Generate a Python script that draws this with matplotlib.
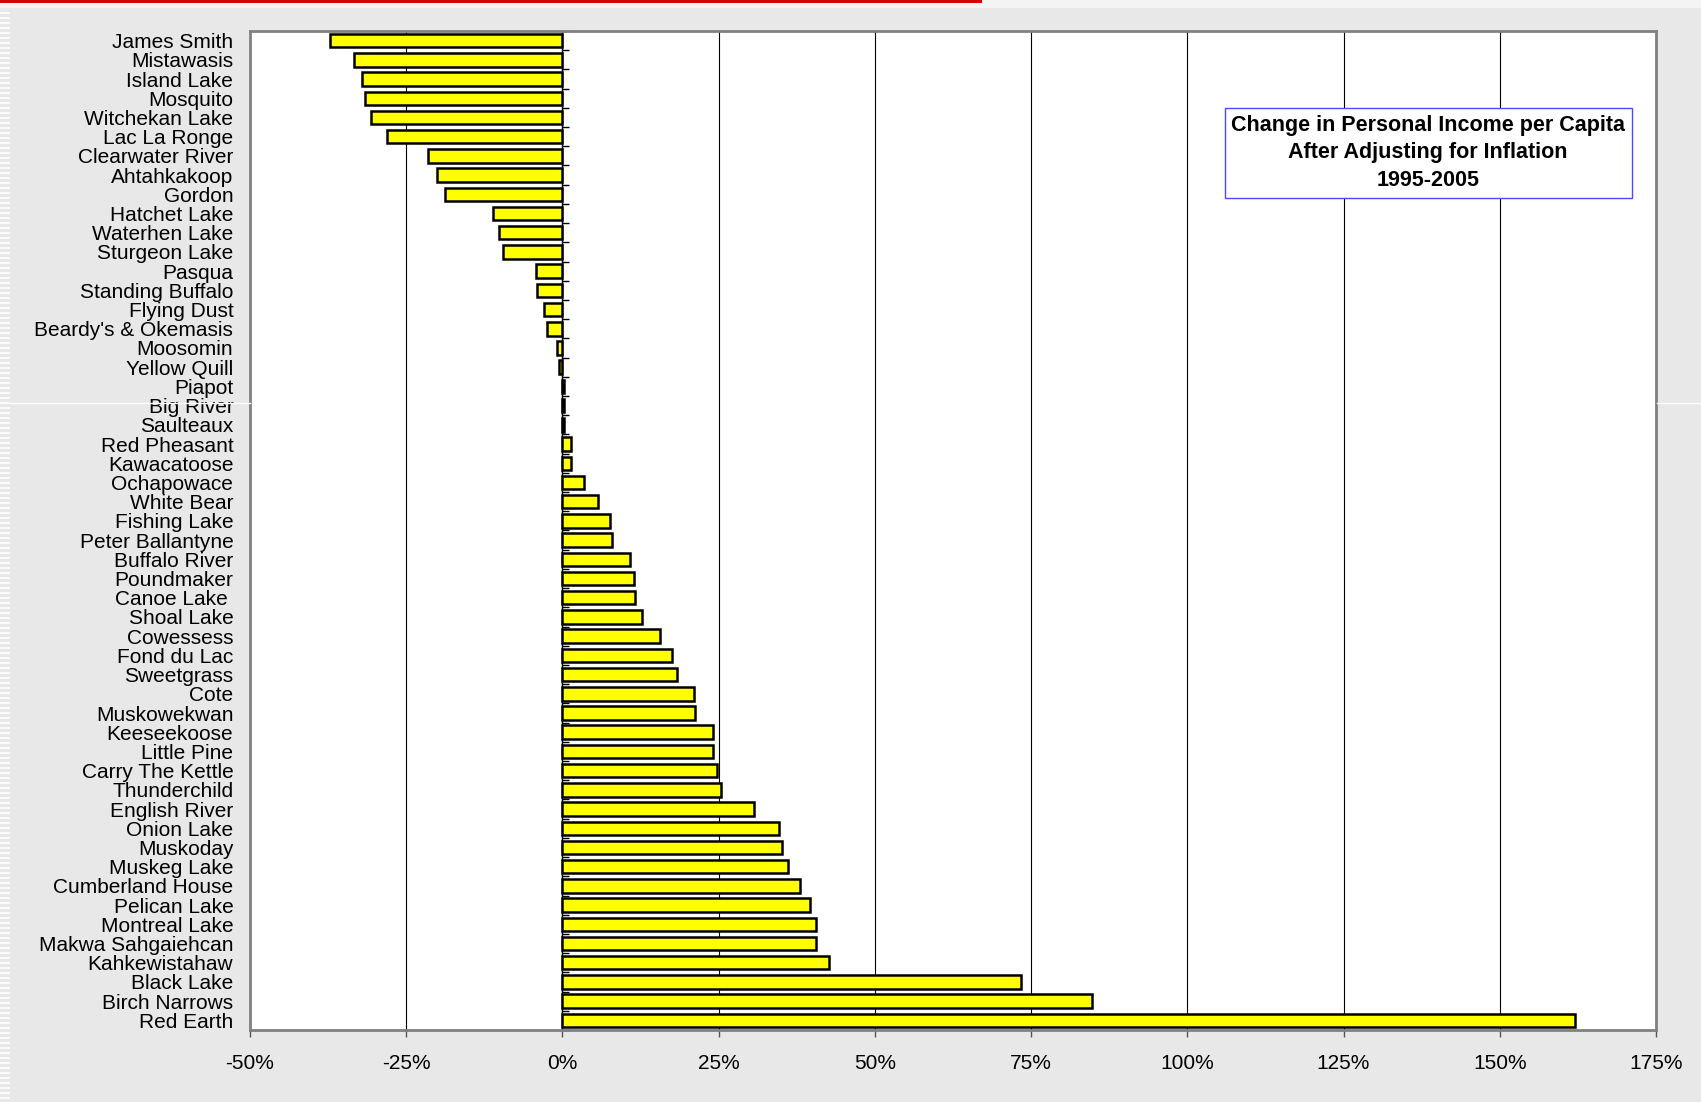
import numpy as np
import matplotlib
matplotlib.use("Agg")
import matplotlib.pyplot as plt
import matplotlib.ticker as ticker
from matplotlib.patches import Rectangle
from matplotlib.lines import Line2D

plt.rcParams['font.family'] = ['Liberation Sans', 'DejaVu Sans']

# Данные: изменение личного дохода на душу населения, 1995-2005
bands = ['James Smith', 'Mistawasis', 'Island Lake', 'Mosquito', 'Witchekan Lake',
         'Lac La Ronge', 'Clearwater River', 'Ahtahkakoop', 'Gordon', 'Hatchet Lake',
         'Waterhen Lake', 'Sturgeon Lake', 'Pasqua', 'Standing Buffalo', 'Flying Dust',
         "Beardy's & Okemasis", 'Moosomin', 'Yellow Quill', 'Piapot', 'Big River',
         'Saulteaux', 'Red Pheasant', 'Kawacatoose', 'Ochapowace', 'White Bear',
         'Fishing Lake', 'Peter Ballantyne', 'Buffalo River', 'Poundmaker', 'Canoe Lake ',
         'Shoal Lake', 'Cowessess', 'Fond du Lac', 'Sweetgrass', 'Cote',
         'Muskowekwan', 'Keeseekoose', 'Little Pine', 'Carry The Kettle', 'Thunderchild',
         'English River', 'Onion Lake', 'Muskoday', 'Muskeg Lake', 'Cumberland House',
         'Pelican Lake', 'Montreal Lake', 'Makwa Sahgaiehcan', 'Kahkewistahaw', 'Black Lake',
         'Birch Narrows', 'Red Earth']
change_pct = [-37.2, -33.3, -32.1, -31.6, -30.7,
              -28.0, -21.5, -20.1, -18.8, -11.1,
              -10.1, -9.5, -4.3, -4.0, -3.0,
              -2.5, -0.8, -0.6, 0.3, 0.3,
              0.3, 1.3, 1.4, 3.4, 5.7,
              7.6, 8.0, 10.8, 11.5, 11.6,
              12.7, 15.6, 17.5, 18.4, 21.0,
              21.2, 24.1, 24.1, 24.8, 25.3,
              30.7, 34.7, 35.1, 36.1, 38.0,
              39.6, 40.5, 40.6, 42.6, 73.4,
              84.8, 162.0]
x_ticks = [-50, -25, 0, 25, 50, 75, 100, 125, 150, 175]
legend_text = 'Change in Personal Income per Capita\nAfter Adjusting for Inflation\n1995-2005'

bg = '#e8e8e8'
fig = plt.figure(figsize=(17.01, 11.02), dpi=100, facecolor=bg)

# декор слайда: красная полоса сверху и полосатый край слева
fig.patches.append(Rectangle((0, 1 - 8 / 1102), 1, 8 / 1102, transform=fig.transFigure,
                             facecolor='#f4f4f4', edgecolor='none'))
fig.patches.append(Rectangle((0, 1 - 3 / 1102), 982 / 1701, 3 / 1102, transform=fig.transFigure,
                             facecolor='#d40000', edgecolor='none'))
for k in range(12, 1102, 5):
    fig.patches.append(Rectangle((0, 1 - (k + 2) / 1102), 10 / 1701, 2 / 1102,
                                 transform=fig.transFigure, facecolor='#fafafa', edgecolor='none'))
fig.lines.append(Line2D([10 / 1701, 250 / 1701], [1 - 403 / 1102] * 2, transform=fig.transFigure,
                        color='white', lw=1))
fig.lines.append(Line2D([1657 / 1701, 1], [1 - 403 / 1102] * 2, transform=fig.transFigure,
                        color='white', lw=1))

ax = fig.add_axes([250 / 1701, 1 - 1030 / 1102, 1406 / 1701, 999 / 1102])
ax.set_facecolor('white')

y = np.arange(len(bands))
ax.barh(y, change_pct, height=0.7, color='#ffff00', edgecolor='black', linewidth=1.8, zorder=3)
ax.set_ylim(len(bands) - 0.5, -0.5)
ax.set_xlim(-50, 175)

ax.set_xticks(x_ticks)
ax.xaxis.set_major_formatter(ticker.FuncFormatter(lambda v, p: '%d%%' % v))
ax.grid(True, axis='x', color='black', linewidth=0.8, zorder=1)
ax.set_yticks(y)
ax.set_yticklabels(bands)
ax.tick_params(axis='y', length=0, pad=12, labelsize=15)
ax.tick_params(axis='x', length=5, width=1, color='#555555', direction='out', pad=12, labelsize=15)

for s in ax.spines.values():
    s.set_color('#808080')
    s.set_linewidth(2)

# ось категорий проходит через 0%
ax0 = ax.secondary_yaxis(2 / 9)
ax0.set_yticks(np.arange(len(bands) + 1) - 0.5)
ax0.set_yticklabels([])
ax0.tick_params(axis='y', direction='in', length=5, width=1, color='black')
ax0.spines['left'].set_color('black')
ax0.spines['left'].set_linewidth(1)

ax.text(0.838, 0.878, legend_text, transform=ax.transAxes, ha='center', va='center',
        fontsize=15.5, fontweight='bold', linespacing=1.42, zorder=5,
        bbox=dict(boxstyle='square,pad=0.3', facecolor='white', edgecolor='#4a4aff', linewidth=1))

fig.savefig('out.png', dpi=100, facecolor=bg)
